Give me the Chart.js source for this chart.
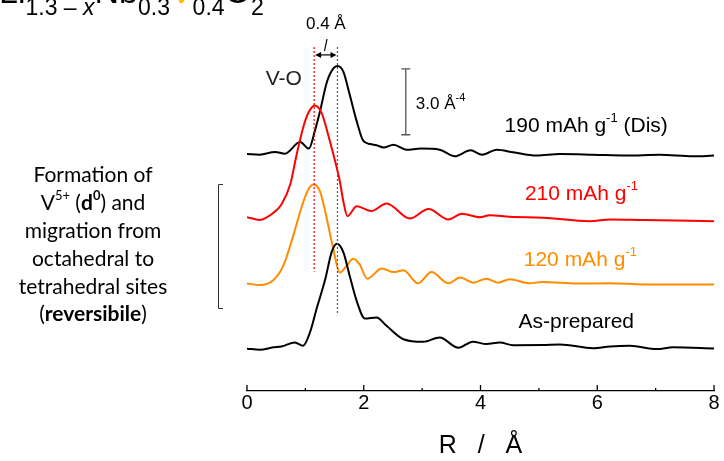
<!DOCTYPE html>
<html>
<head>
<meta charset="utf-8">
<script src="https://cdn.jsdelivr.net/npm/chart.js@4.4.1/dist/chart.umd.min.js"></script>
<style>
  html, body { margin: 0; padding: 0; background: #fff; }
  #wrap { width: 724px; height: 461px; position: relative; }
</style>
</head>
<body>
<div id="wrap"><canvas id="ft-chart"></canvas></div>
<script>
// ---------------------------------------------
// Data: |FT| of V K-edge EXAFS, R in Å, magnitude in Å^-4
// ---------------------------------------------
const rAsPrepared = [0, 0.22, 0.45, 0.59, 0.82, 0.96, 1.08, 1.19, 1.34, 1.45, 1.54, 1.65, 1.76, 1.88, 2.02, 2.22, 2.39, 2.68, 3.02, 3.30, 3.62, 3.87, 4.10, 4.33, 4.56, 5.07, 5.36, 5.93, 6.22, 6.56, 7.02, 7.30, 8.0];
const asPrepared  = [0.13, 0.08, 0.19, 0.23, 0.41, 0.26, 0.88, 1.93, 3.29, 4.53, 4.91, 4.53, 3.44, 2.30, 1.50, 1.55, 1.17, 0.56, 0.44, 0.64, 0.17, 0.45, 0.34, 0.41, 0.29, 0.30, 0.32, 0.15, 0.23, 0.26, 0.11, 0.19, 0.14];

const r120   = [0, 0.22, 0.45, 0.62, 0.79, 0.94, 1.05, 1.14, 1.25, 1.37, 1.48, 1.59, 1.68, 1.82, 1.93, 2.06, 2.31, 2.51, 2.68, 2.93, 3.16, 3.45, 3.65, 3.88, 4.10, 4.30, 4.50, 4.84, 5.07, 5.65, 6.22, 6.79, 8.0];
const cap120 = [0.10, 0.03, 0.25, 0.90, 2.26, 3.62, 4.38, 4.61, 4.30, 3.02, 1.65, 0.60, 0.82, 1.23, 0.97, 0.32, 0.78, 0.62, 0.70, 0.11, 0.62, 0.11, 0.37, 0.14, 0.32, 0.14, 0.29, 0.11, 0.17, 0.10, 0.11, 0.06, 0.05];

const r210   = [0, 0.22, 0.45, 0.59, 0.74, 0.85, 0.96, 1.05, 1.16, 1.28, 1.39, 1.51, 1.59, 1.65, 1.72, 1.88, 2.13, 2.39, 2.79, 3.11, 3.45, 3.68, 3.99, 4.16, 4.50, 5.07, 5.87, 6.22, 6.79, 8.0];
const cap210 = [0.22, 0.10, 0.42, 0.80, 1.71, 3.07, 4.29, 4.97, 5.31, 4.97, 3.98, 2.77, 1.86, 0.95, 0.27, 0.72, 0.50, 0.85, 0.16, 0.60, 0.12, 0.38, 0.22, 0.31, 0.24, 0.20, 0.04, 0.12, 0.09, 0.04];

const r190Dis   = [0, 0.22, 0.48, 0.65, 0.91, 1.06, 1.16, 1.25, 1.37, 1.48, 1.55, 1.65, 1.76, 1.88, 1.99, 2.11, 2.22, 2.34, 2.51, 2.73, 2.98, 3.30, 3.56, 3.83, 4.03, 4.28, 4.56, 4.96, 5.36, 5.93, 6.50, 7.07, 7.64, 8.0];
const cap190Dis = [0.30, 0.27, 0.40, 0.32, 0.85, 0.55, 1.33, 2.24, 3.60, 4.21, 4.32, 4.06, 3.00, 1.79, 0.91, 0.76, 0.70, 0.60, 0.73, 0.50, 0.55, 0.50, 0.20, 0.47, 0.27, 0.50, 0.38, 0.23, 0.30, 0.27, 0.23, 0.27, 0.20, 0.23];

// vertical stacking offsets (Å^-4): as-prepared, 120, 210, 190 (Dis)
const stackOffsets = [1.8, 4.8, 7.7, 10.5];
const seriesNames  = ["As-prepared", "120 mAh g-1", "210 mAh g-1", "190 mAh g-1 (Dis)"];
const seriesColors = ["#000000", "#ff8c00", "#ff0000", "#000000"];
const xTicks = [0, 2, 4, 6, 8];

const FONT = "'Liberation Sans', Arial, sans-serif";

function stacked(rs, vals, off) {
    return rs.map(function (r, i) { return { x: r, y: vals[i] + off }; });
}

const curves = [
    stacked(rAsPrepared, asPrepared, stackOffsets[0]),
    stacked(r120, cap120, stackOffsets[1]),
    stacked(r210, cap210, stackOffsets[2]),
    stacked(r190Dis, cap190Dis, stackOffsets[3])
];

// draw a run of text pieces (normal / sup / sub / bold) centred or left aligned
function drawRuns(ctx, runs, x, y, align) {
    let total = 0;
    runs.forEach(function (r) { ctx.font = r.font; r.w = ctx.measureText(r.t).width; total += r.w; });
    let cx = align === "center" ? x - total / 2 : x;
    ctx.textAlign = "left";
    runs.forEach(function (r) {
        ctx.font = r.font;
        ctx.fillStyle = r.color || "#000";
        ctx.fillText(r.t, cx, y + (r.dy || 0));
        cx += r.w;
    });
}

const decorPlugin = {
    id: "decor",
    afterDraw: function (chart) {
        const ctx = chart.ctx;
        const xs = chart.scales.x;
        const ys = chart.scales.y;
        const px = function (v) { return xs.getPixelForValue(v); };
        const py = function (v) { return ys.getPixelForValue(v); };
        ctx.save();

        // upward tick marks on the R axis
        ctx.strokeStyle = "#000";
        ctx.lineWidth = 1.3;
        for (let v = 0; v <= 8; v++) {
            const len = v % 2 === 0 ? 6 : 3;
            ctx.beginPath();
            ctx.moveTo(px(v), xs.top);
            ctx.lineTo(px(v), xs.top - len);
            ctx.stroke();
        }

        // dotted guide lines
        ctx.lineWidth = 1.2;
        ctx.setLineDash([2, 2]);
        ctx.strokeStyle = "#ff0000";
        ctx.beginPath(); ctx.moveTo(px(1.15), py(15.68)); ctx.lineTo(px(1.15), py(5.45)); ctx.stroke();
        ctx.strokeStyle = "#555";
        ctx.beginPath(); ctx.moveTo(px(1.55), py(15.68)); ctx.lineTo(px(1.55), py(3.45)); ctx.stroke();
        ctx.setLineDash([]);

        // double arrow 0.4 Å
        const ay = py(15.32), ax1 = px(1.15) + 1, ax2 = px(1.55) - 1;
        ctx.strokeStyle = "#000";
        ctx.fillStyle = "#000";
        ctx.lineWidth = 1.2;
        ctx.beginPath(); ctx.moveTo(ax1 + 4, ay); ctx.lineTo(ax2 - 4, ay); ctx.stroke();
        ctx.beginPath(); ctx.moveTo(ax1, ay); ctx.lineTo(ax1 + 6, ay - 3); ctx.lineTo(ax1 + 6, ay + 3); ctx.closePath(); ctx.fill();
        ctx.beginPath(); ctx.moveTo(ax2, ay); ctx.lineTo(ax2 - 6, ay - 3); ctx.lineTo(ax2 - 6, ay + 3); ctx.closePath(); ctx.fill();
        ctx.beginPath(); ctx.moveTo(327, 39); ctx.lineTo(324.5, 51); ctx.stroke();

        ctx.textBaseline = "middle";
        ctx.textAlign = "center";
        ctx.font = "17px " + FONT;
        ctx.fillText("0.4 Å", px(1.35), 24);

        ctx.fillStyle = "#222";
        ctx.font = "21px " + FONT;
        ctx.fillText("V-O", px(0.63), py(14.23));

        // scale bar 3.0 Å^-4
        const bx = px(2.72);
        ctx.strokeStyle = "#555";
        ctx.lineWidth = 1.3;
        ctx.beginPath();
        ctx.moveTo(bx, py(14.68)); ctx.lineTo(bx, py(11.68));
        ctx.moveTo(bx - 4.5, py(14.68)); ctx.lineTo(bx + 4.5, py(14.68));
        ctx.moveTo(bx - 4.5, py(11.68)); ctx.lineTo(bx + 4.5, py(11.68));
        ctx.stroke();
        drawRuns(ctx, [
            { t: "3.0 Å", font: "17px " + FONT },
            { t: "-4", font: "11px " + FONT, dy: -7 }
        ], bx + 10, py(13.05), "left");

        // curve labels
        const sup = "13px " + FONT, lab = "21px " + FONT;
        drawRuns(ctx, [
            { t: "190 mAh g", font: lab }, { t: "-1", font: sup, dy: -8 }, { t: " (Dis)", font: lab }
        ], px(5.81), py(12.05), "center");
        drawRuns(ctx, [
            { t: "210 mAh g", font: lab, color: "#ff0000" }, { t: "-1", font: sup, dy: -8, color: "#ff0000" }
        ], px(5.73), py(8.95), "center");
        drawRuns(ctx, [
            { t: "120 mAh g", font: lab, color: "#ff8c00" }, { t: "-1", font: sup, dy: -8, color: "#ff8c00" }
        ], px(5.71), py(5.95), "center");
        ctx.fillStyle = "#000";
        ctx.textAlign = "center";
        ctx.font = lab;
        ctx.fillText("As-prepared", px(5.64), py(3.13));

        // left-hand note and bracket
        const nf = "21px Lato, 'Open Sans', sans-serif";
        const nb = "bold 21px Lato, 'Open Sans', sans-serif";
        const ns = "13px Lato, 'Open Sans', sans-serif";
        const nsb = "bold 13px Lato, 'Open Sans', sans-serif";
        const cxn = 93;
        ctx.fillStyle = "#000";
        ctx.textAlign = "center";
        ctx.font = nf;
        ctx.fillText("Formation of", cxn, 175);
        drawRuns(ctx, [
            { t: "V", font: nf }, { t: "5+", font: ns, dy: -7 }, { t: " (", font: nf },
            { t: "d", font: nb }, { t: "0", font: nsb, dy: -7 }, { t: ") and", font: nf }
        ], cxn, 203, "center");
        ctx.textAlign = "center";
        ctx.font = nf;
        ctx.fillText("migration from", cxn, 231.5);
        ctx.fillText("octahedral to", cxn, 259.5);
        ctx.fillText("tetrahedral sites", cxn, 287);
        drawRuns(ctx, [
            { t: "(", font: nf }, { t: "reversibile", font: nb }, { t: ")", font: nf }
        ], cxn, 314, "center");

        ctx.strokeStyle = "#333";
        ctx.lineWidth = 1;
        ctx.beginPath();
        ctx.moveTo(223, 184.5); ctx.lineTo(218.5, 184.5); ctx.lineTo(218.5, 308.5); ctx.lineTo(223, 308.5);
        ctx.stroke();

        // compound formula, cut off at the top edge
        const big = "34px " + FONT, sub = "23px " + FONT, subI = "italic 23px " + FONT;
        ctx.textBaseline = "alphabetic";
        drawRuns(ctx, [
            { t: "Li", font: big }, { t: "1.3 – ", font: sub, dy: 12 }, { t: "x", font: subI, dy: 12 },
            { t: "Nb", font: big }, { t: "0.3", font: sub, dy: 12 },
            { t: "V", font: big, color: "#ffc000" }, { t: "0.4", font: sub, dy: 12 },
            { t: "O", font: big }, { t: "2", font: sub, dy: 12 }
        ], -1, 3, "left");

        ctx.restore();
    }
};

const ctx = document.getElementById("ft-chart");

new Chart(ctx, {
    type: "line",
    data: {
        datasets: curves.map(function (pts, i) {
            return {
                label: seriesNames[i],
                data: pts,
                borderColor: seriesColors[i],
                borderWidth: 2,
                pointRadius: 0,
                cubicInterpolationMode: "monotone",
                fill: false
            };
        })
    },
    options: {
        responsive: true,
        maintainAspectRatio: false,
        animation: false,
        layout: { padding: { left: 247, right: 10, top: 40, bottom: 0 } },
        plugins: {
            legend: { display: false },
            tooltip: { enabled: false }
        },
        scales: {
            x: {
                type: "linear",
                min: 0,
                max: 8,
                grid: { display: true, drawOnChartArea: false, drawTicks: false },
                border: { display: true, color: "#000", width: 1.3 },
                ticks: {
                    stepSize: 1,
                    autoSkip: false,
                    maxRotation: 0,
                    padding: 0,
                    color: "#000",
                    font: { family: FONT, size: 20 },
                    callback: function (v) { return xTicks.indexOf(v) >= 0 ? String(v) : ""; }
                },
                title: {
                    display: true,
                    text: "R   /   Å",
                    color: "#000",
                    font: { family: FONT, size: 25 },
                    padding: { top: 16, bottom: 0 }
                }
            },
            y: {
                display: false,
                min: 0,
                max: 16
            }
        }
    },
    plugins: [decorPlugin]
});
</script>
</body>
</html>
